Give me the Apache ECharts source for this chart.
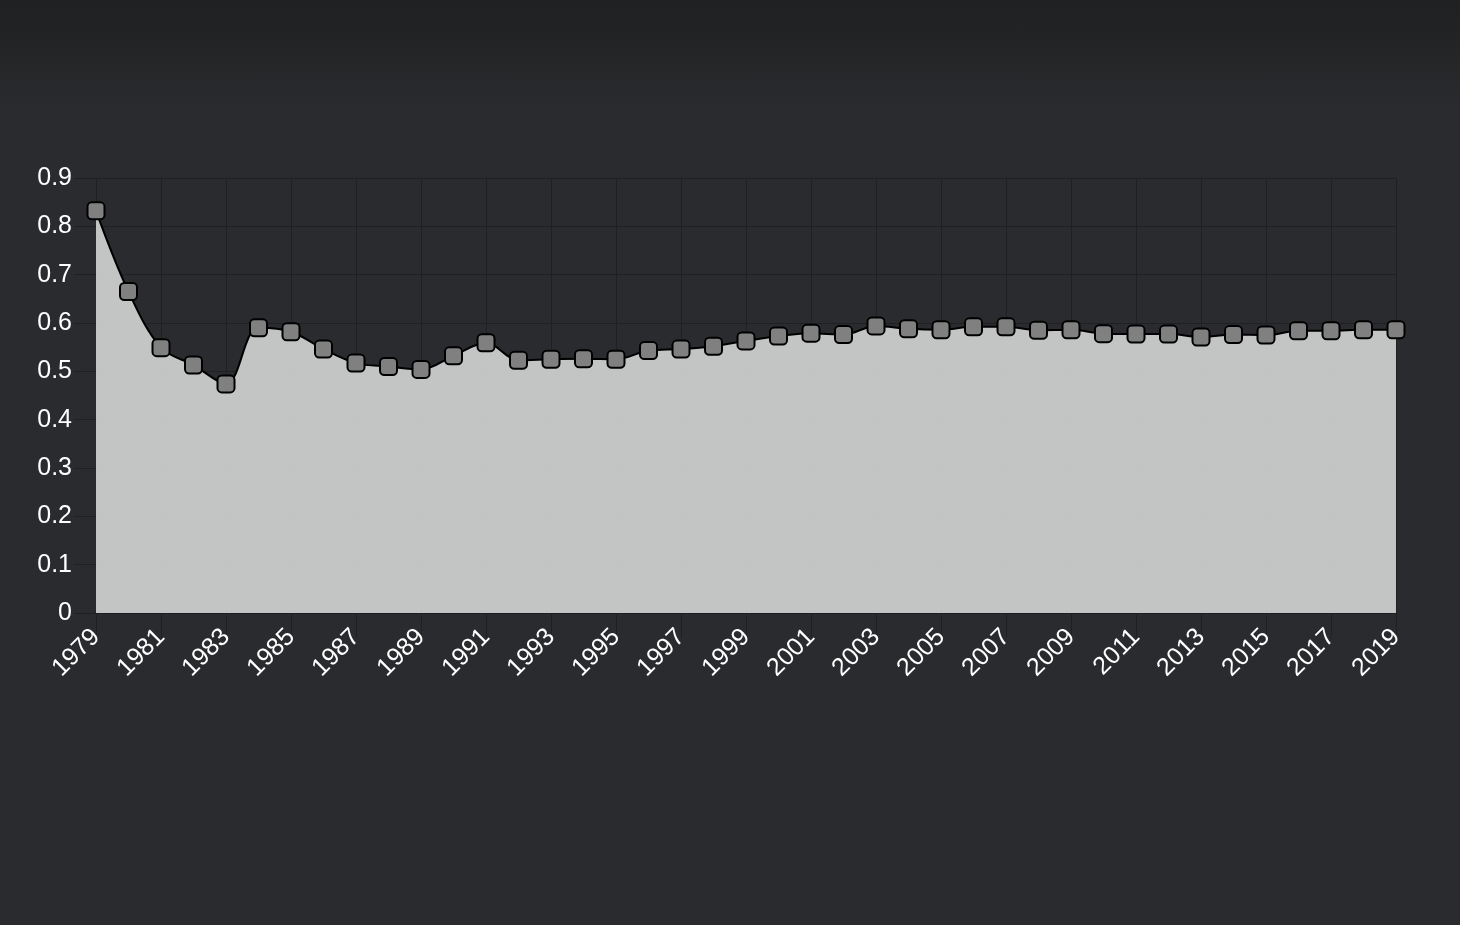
<!DOCTYPE html>
<html>
<head>
<meta charset="utf-8">
<style>
  html, body { margin: 0; padding: 0; }
  body { background: linear-gradient(to bottom, #1f2021 0px, #2a2b2e 110px, #2a2b2e 100%); }
  #main { width: 1460px; height: 925px; }
</style>
<script src="https://cdn.jsdelivr.net/npm/echarts@6/dist/echarts.min.js"></script>
</head>
<body>
<div id="main"></div>
<script>
var years = []
for (var y = 1979; y <= 2019; y++) years.push(String(y))

// 数值从图上读取
var values = [
  0.832, 0.665, 0.549, 0.513, 0.474, 0.590, 0.582, 0.546, 0.517, 0.510,
  0.504, 0.532, 0.559, 0.523, 0.525, 0.526, 0.525, 0.543, 0.546, 0.552,
  0.563, 0.573, 0.579, 0.576, 0.594, 0.588, 0.586, 0.592, 0.592, 0.585,
  0.586, 0.578, 0.577, 0.577, 0.571, 0.576, 0.575, 0.584, 0.584, 0.586,
  0.586
]

var yTicks = [0, 0.1, 0.2, 0.3, 0.4, 0.5, 0.6, 0.7, 0.8, 0.9]

var gridColor = '#1f2022'
var labelFont = 'Liberation Sans, Arial, sans-serif'

var myChart = echarts.init(document.getElementById('main'))

myChart.setOption({
  backgroundColor: 'transparent',
  animation: false,
  grid: {
    left: 96,
    right: 64,
    top: 178,
    bottom: 312
  },
  xAxis: {
    type: 'category',
    boundaryGap: false,
    data: years,
    axisLine: { show: true, lineStyle: { color: '#1c1d1f', width: 2 } },
    axisTick: { show: true, interval: 1, length: 25, lineStyle: { color: gridColor } },
    splitLine: { show: true, interval: 1, lineStyle: { color: gridColor } },
    axisLabel: {
      interval: 1,
      rotate: 45,
      margin: 20,
      color: '#ffffff',
      fontSize: 25,
      fontFamily: labelFont
    }
  },
  yAxis: {
    type: 'value',
    min: yTicks[0],
    max: yTicks[yTicks.length - 1],
    interval: 0.1,
    axisLine: { show: false },
    axisTick: { show: true, length: 22, lineStyle: { color: gridColor } },
    splitLine: { show: true, lineStyle: { color: gridColor } },
    axisLabel: {
      margin: 24,
      color: '#ffffff',
      fontSize: 25,
      fontFamily: labelFont,
      formatter: function (v) { return String(Math.round(v * 10) / 10) }
    }
  },
  series: [
    {
      type: 'line',
      data: values,
      smooth: 0.35,
      symbol: 'roundRect',
      symbolSize: 17,
      itemStyle: { color: '#808080', borderColor: '#000000', borderWidth: 2 },
      lineStyle: { color: '#000000', width: 2 },
      areaStyle: { color: '#cbcdcc', opacity: 0.95 }
    }
  ]
})
</script>
</body>
</html>
